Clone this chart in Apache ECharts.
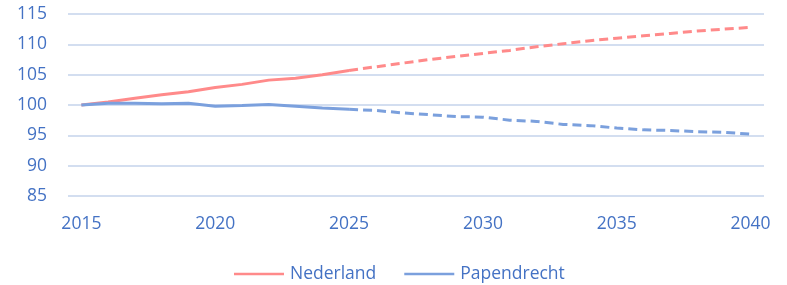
<!DOCTYPE html>
<html>
<head>
<meta charset="utf-8">
<script src="https://cdn.jsdelivr.net/npm/echarts@6/dist/echarts.min.js"></script>
<style>
html,body{margin:0;padding:0;background:#fff;}
#chart{width:787px;height:285px;}
</style>
</head>
<body>
<div id="chart"></div>
<script>
const years = ['2015','2016','2017','2018','2019','2020','2021','2022','2023','2024','2025','2026','2027','2028','2029','2030','2031','2032','2033','2034','2035','2036','2037','2038','2039','2040'];
const nederland = [100,100.5,101.1,101.7,102.2,102.9,103.4,104.1,104.4,105.0,105.7,106.3,106.9,107.5,108.0,108.5,109.0,109.6,110.1,110.6,111.0,111.4,111.8,112.2,112.5,112.8];
const papendrecht = [100,100.3,100.3,100.2,100.3,99.8,99.9,100.1,99.8,99.5,99.3,99.1,98.7,98.4,98.1,98.0,97.5,97.3,96.8,96.6,96.2,95.9,95.8,95.6,95.5,95.2];
const seriesNames = ['Nederland','Papendrecht'];
const lastObserved = '2025';
const yTicks = {min:85, max:115, step:5};

const splitIdx = years.indexOf(lastObserved);
const solid = arr => arr.map((v,i)=> i<=splitIdx ? v : null);
const dashed = arr => arr.map((v,i)=> i>=splitIdx ? v : null);
const red = '#ff8a8a', blue = '#7ba0dd', txt = '#4472c4';
const font = 'Open Sans';
const fs = 17.5;

const chart = echarts.init(document.getElementById('chart'), null, {renderer:'canvas'});
chart.setOption({
  animation:false,
  textStyle:{fontFamily:font},
  grid:{left:68, right:23, top:14, bottom:89, containLabel:false},
  legend:{
    data:seriesNames, top:260, left:229, icon:'rect',
    itemWidth:50, itemHeight:2.5, itemGap:28,
    textStyle:{color:txt, fontSize:fs, fontFamily:font, padding:[0,0,0,1]}
  },
  xAxis:{
    type:'category', data:years, boundaryGap:true,
    axisLine:{show:false}, axisTick:{show:false},
    axisLabel:{interval:4, color:txt, fontSize:fs, fontFamily:font, margin:19},
    splitLine:{show:false}
  },
  yAxis:{
    type:'value', min:yTicks.min, max:yTicks.max, interval:yTicks.step,
    axisLine:{show:false}, axisTick:{show:false},
    axisLabel:{color:txt, fontSize:fs, fontFamily:font, margin:21},
    splitLine:{lineStyle:{color:'#d3def0', width:2}}
  },
  series:[
    {name:seriesNames[0], type:'line', data:solid(nederland), symbol:'none', lineStyle:{color:red, width:3}, itemStyle:{color:red}},
    {name:seriesNames[1], type:'line', data:solid(papendrecht), symbol:'none', lineStyle:{color:blue, width:3}, itemStyle:{color:blue}},
    {name:seriesNames[0]+' prognose', type:'line', data:dashed(nederland), symbol:'none', lineStyle:{color:red, width:3, type:[9,5]}, itemStyle:{color:red}},
    {name:seriesNames[1]+' prognose', type:'line', data:dashed(papendrecht), symbol:'none', lineStyle:{color:blue, width:3, type:[9,5]}, itemStyle:{color:blue}}
  ]
});
</script>
</body>
</html>
